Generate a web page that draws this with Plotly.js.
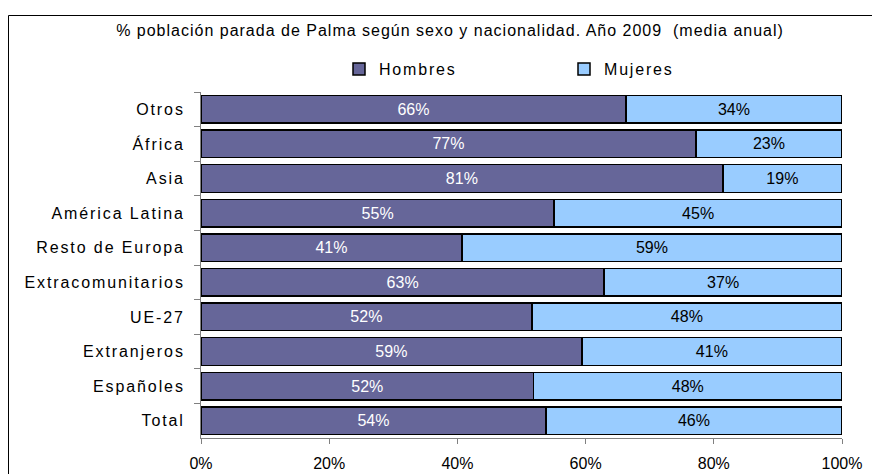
<!DOCTYPE html>
<html>
<head>
<meta charset="utf-8">
<script src="https://cdn.plot.ly/plotly-3.0.1.min.js"></script>
<style>
html,body{margin:0;padding:0;background:#fff;}
#chart{width:872px;height:474px;}
.ytick text{letter-spacing:1.9px;}
.legendtext{letter-spacing:1.8px;}
.gtitle{letter-spacing:1.0px;}
</style>
</head>
<body>
<div id="chart"></div>
<script>
const categories = ["Otros","África","Asia","América Latina","Resto de Europa","Extracomunitarios","UE-27","Extranjeros","Españoles","Total"];
const hombres = [66.3, 77.2, 81.4, 55.1, 40.7, 62.9, 51.6, 59.4, 51.9, 53.8];
const mujeres = [33.7, 22.8, 18.6, 44.9, 59.3, 37.1, 48.4, 40.6, 48.1, 46.2];
const xTicks = [0, 20, 40, 60, 80, 100];
const xTickLabels = ["0%", "20%", "40%", "60%", "80%", "100%"];

const FONT = "Liberation Sans, Arial, sans-serif";
const W = 872, H = 474;
const L = 201, R = 842, T = 92, B = 438;
const px2x = p => (p - L) / (R - L);
const py2y = p => (B - p) / (B - T);

const traces = [
  {
    type: "bar", orientation: "h", name: "Hombres",
    y: categories, x: hombres,
    marker: {color: "#666699", line: {color: "#000000", width: 1.5}},
    texttemplate: "%{x:.0f}%", textposition: "inside", insidetextanchor: "middle",
    textfont: {family: FONT, size: 16, color: "#ffffff"},
    constraintext: "none", hoverinfo: "skip"
  },
  {
    type: "bar", orientation: "h", name: "Mujeres",
    y: categories, x: mujeres,
    marker: {color: "#99ccff", line: {color: "#000000", width: 1.5}},
    texttemplate: "%{x:.0f}%", textposition: "inside", insidetextanchor: "middle",
    textfont: {family: FONT, size: 16, color: "#000000"},
    constraintext: "none", hoverinfo: "skip"
  }
];

const layout = {
  width: W, height: H,
  paper_bgcolor: "#ffffff", plot_bgcolor: "#ffffff",
  margin: {l: L, r: W - R, t: T, b: H - B, pad: 0, autoexpand: false},
  font: {family: FONT, size: 16, color: "#000000"},
  barmode: "stack", bargap: 0.2,
  title: {
    text: "% población parada de Palma según sexo y nacionalidad. Año 2009\u00a0\u00a0(media anual)",
    font: {family: FONT, size: 16, color: "#000000"},
    x: 450 / W, xanchor: "center", xref: "container",
    y: 1 - 30 / H, yanchor: "middle", yref: "container"
  },
  showlegend: true,
  legend: {
    orientation: "h", x: px2x(339), xanchor: "left", y: py2y(69), yanchor: "middle",
    entrywidth: 180, entrywidthmode: "pixels",
    font: {family: FONT, size: 16, color: "#000000"},
    bgcolor: "rgba(0,0,0,0)", traceorder: "normal"
  },
  xaxis: {
    range: [0, 100], tickvals: xTicks, ticktext: xTickLabels,
    showgrid: false, zeroline: false,
    showline: true, linecolor: "#808080", linewidth: 1,
    ticks: "outside", ticklen: 5, tickcolor: "#808080",
    ticklabelstandoff: 6,
    tickfont: {family: FONT, size: 16, color: "#000000"},
    fixedrange: true
  },
  yaxis: {
    type: "category", autorange: "reversed",
    showgrid: false, zeroline: false,
    showline: true, linecolor: "#808080", linewidth: 1,
    ticks: "outside", ticklen: 6, tickcolor: "#808080", tickson: "boundaries",
    ticklabelstandoff: 12,
    tickfont: {family: FONT, size: 16, color: "#000000"},
    fixedrange: true
  },
  shapes: [
    {type: "rect", xref: "paper", yref: "paper",
     x0: px2x(8.5), x1: px2x(890), y0: py2y(490), y1: py2y(15.5),
     line: {color: "#000000", width: 1}, fillcolor: "rgba(0,0,0,0)", layer: "below"}
  ]
};

Plotly.newPlot("chart", traces, layout, {staticPlot: true, displayModeBar: false});
</script>
</body>
</html>
